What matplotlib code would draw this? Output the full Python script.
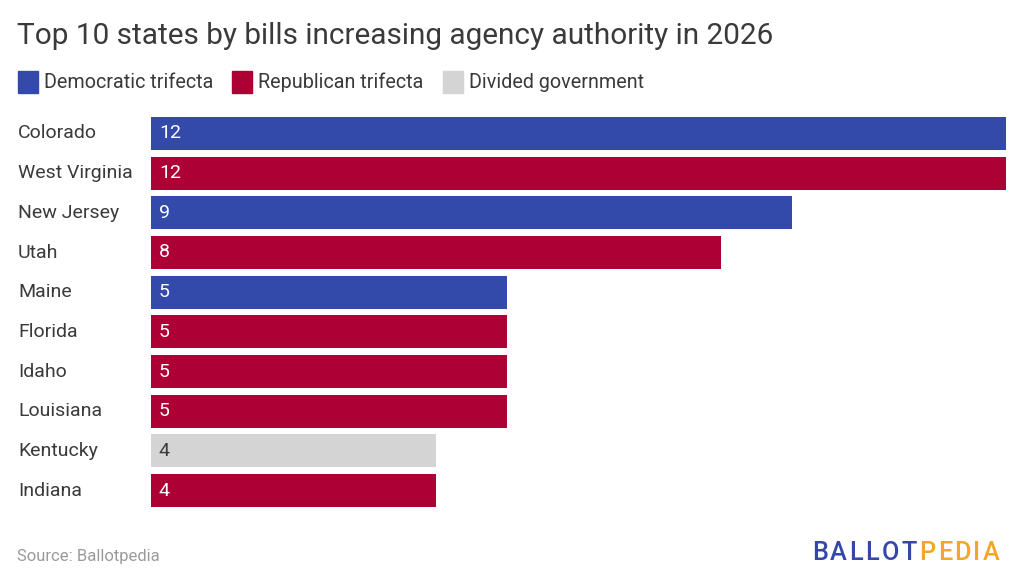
import matplotlib.pyplot as plt
from matplotlib.patches import Rectangle

plt.rcParams["font.family"] = ["Roboto", "DejaVu Sans"]

states = ["Colorado", "West Virginia", "New Jersey", "Utah", "Maine",
          "Florida", "Idaho", "Louisiana", "Kentucky", "Indiana"]
bills = [12, 12, 9, 8, 5, 5, 5, 5, 4, 4]
government = ["D", "R", "D", "R", "D", "R", "R", "R", "G", "R"]

colors = {"D": "#344AAB", "R": "#AD0034", "G": "#D4D4D4"}
legend_labels = {"D": "Democratic trifecta", "R": "Republican trifecta",
                 "G": "Divided government"}
text_dark = "#3a3a3a"

W, H = 1024, 586
fig = plt.figure(figsize=(W / 100, H / 100), dpi=100)
fig.patch.set_facecolor("white")

top, bottom = 113.5, 510.5
ax = fig.add_axes([151 / W, 1 - bottom / H, (1006 - 151) / W, (bottom - top) / H])
ypos = list(range(len(states)))
ax.barh(ypos, bills, height=0.83, color=[colors[g] for g in government])
ax.set_xlim(0, 12)
ax.set_ylim(len(states) - 0.5, -0.5)
ax.axis("off")

for y, v, g, s in zip(ypos, bills, government, states):
    ax.text(0.11, y, str(v), va="center", ha="left", fontsize=14,
            color=text_dark if g == "G" else "white")
    ax.text(18 / W, 1 - (133.5 + 39.7 * y) / H, s, transform=fig.transFigure,
            va="center", ha="left", fontsize=14, color=text_dark)

fig.text(17 / W, 1 - 36 / H, "Top 10 states by bills increasing agency authority in 2026",
         fontsize=21.4, color=text_dark, va="center", ha="left")

x = 18
for key in ["D", "R", "G"]:
    fig.patches.append(Rectangle((x / W, 1 - 93 / H), 20 / W, 22 / H,
                                 transform=fig.transFigure, color=colors[key]))
    t = fig.text((x + 26) / W, 1 - 82 / H, legend_labels[key], fontsize=14.2,
                 color=text_dark, va="center", ha="left")
    fig.canvas.draw()
    bb = t.get_window_extent()
    x = bb.x1 + 19

fig.text(17 / W, 1 - 557 / H, "Source: Ballotpedia", fontsize=12,
         color="#9a9a9a", va="center", ha="left")

# logo: letters spaced out a little
x = 812
for word, col in [("BALLOT", "#3548A8"), ("PEDIA", "#F4A52A")]:
    for ch in word:
        t = fig.text(x / W, 1 - 553 / H, ch, fontsize=18.2, fontweight="medium",
                     color=col, va="center", ha="left")
        fig.canvas.draw()
        x = t.get_window_extent().x1 + 2.4

fig.savefig("out.png", dpi=100, facecolor="white")
